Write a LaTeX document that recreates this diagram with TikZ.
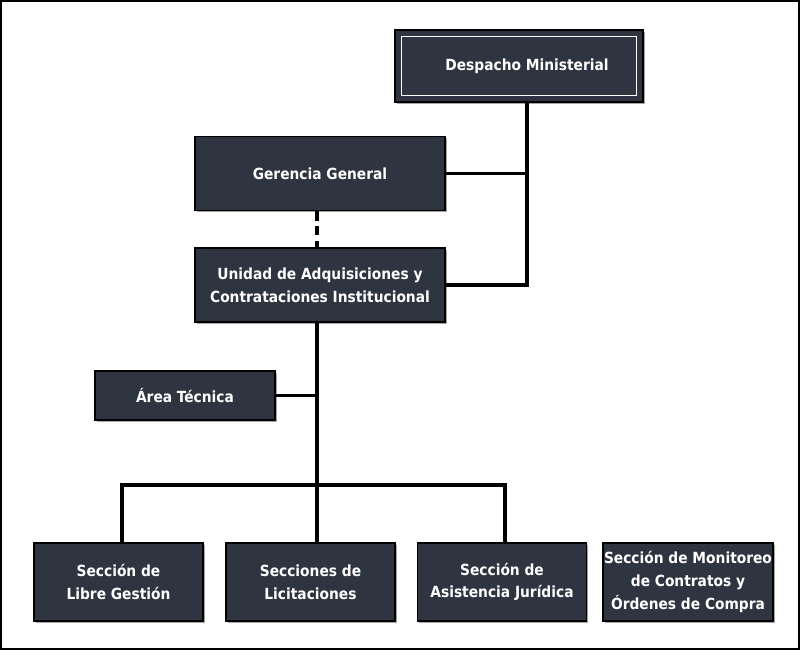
\documentclass[tikz,border=0pt]{standalone}
\usepackage{fontspec}
\newfontfamily\orgfont{DejaVu Sans Condensed}
\usetikzlibrary{shadows}
\definecolor{boxfill}{RGB}{47,53,64}
\tikzset{every picture/.style={line width=0.75pt}}
\tikzset{
  orgbox/.style={draw=black, line width=0.9pt, fill=boxfill, text=white, align=center,
    font=\orgfont\bfseries\fontsize{11.5}{17}\selectfont, inner sep=0.75pt,
    drop shadow={shadow xshift=1.2pt, shadow yshift=-1.2pt, fill=black, opacity=0.35}},
  link/.style={line width=2.6pt, line cap=rect},
}

\begin{document}
\begin{tikzpicture}[x=0.75pt,y=0.75pt,yscale=-1,xscale=1]
				\useasboundingbox (0,0) rectangle (800,650);
				%Frame
				\draw [line width=1.6pt] (1,1) rectangle (799,649);
				
				% Boxes
				\node [orgbox, minimum width=186pt, minimum height=54pt] (despacho) at (519,66) {\hspace*{12pt}Despacho Ministerial};
				\draw [white, line width=0.8pt] ([shift={(7,7)}]despacho.north west) rectangle ([shift={(-7,-7)}]despacho.south east);
				\node [orgbox, minimum width=187.5pt, minimum height=56pt] (gerencia) at (320,173.5) {Gerencia General};
				\node [orgbox, minimum width=187.5pt, minimum height=55.5pt] (unidad) at (320,285) {Unidad de Adquisiciones y\\Contrataciones Institucional};
				\node [orgbox, minimum width=135pt, minimum height=36.75pt] (tecnica) at (185,395.5) {Área Técnica};
				\node [orgbox, minimum width=126.75pt, minimum height=58.5pt] (libre) at (118.5,582) {Sección de\\Libre Gestión};
				\node [orgbox, minimum width=126.75pt, minimum height=58.5pt] (licitaciones) at (310.5,582) {Secciones de\\Licitaciones};
				\node [orgbox, minimum width=126.75pt, minimum height=58.5pt] (juridica) at (502,582) {Sección de\\Asistencia Jurídica};
				\node [orgbox, minimum width=126.75pt, minimum height=58.5pt] (monitoreo) at (688,582) {Sección de Monitoreo\\de Contratos y\\Órdenes de Compra};
				
				% Connectors
				\coordinate (dm) at (527,285);
				\coordinate (trunk) at (317,485);
				\coordinate (busL) at (122,485);
				\coordinate (busR) at (505,485);
				\draw [link] (despacho.south -| dm) -- (dm);
				\draw [link] (gerencia.east) -- (gerencia.east -| dm);
				\draw [link] (unidad.east) -- (dm);
				\draw [link, line cap=butt, dash pattern=on 7pt off 4pt] (gerencia.south -| trunk) -- (unidad.north -| trunk);
				\draw [link] (unidad.south -| trunk) -- (licitaciones.north -| trunk);
				\draw [link] (tecnica.east) -- (tecnica.east -| trunk);
				\draw [link] (busL) -- (busR);
				\draw [link] (busL) -- (busL |- libre.north);
				\draw [link] (busR) -- (busR |- juridica.north);
\end{tikzpicture}
\end{document}
